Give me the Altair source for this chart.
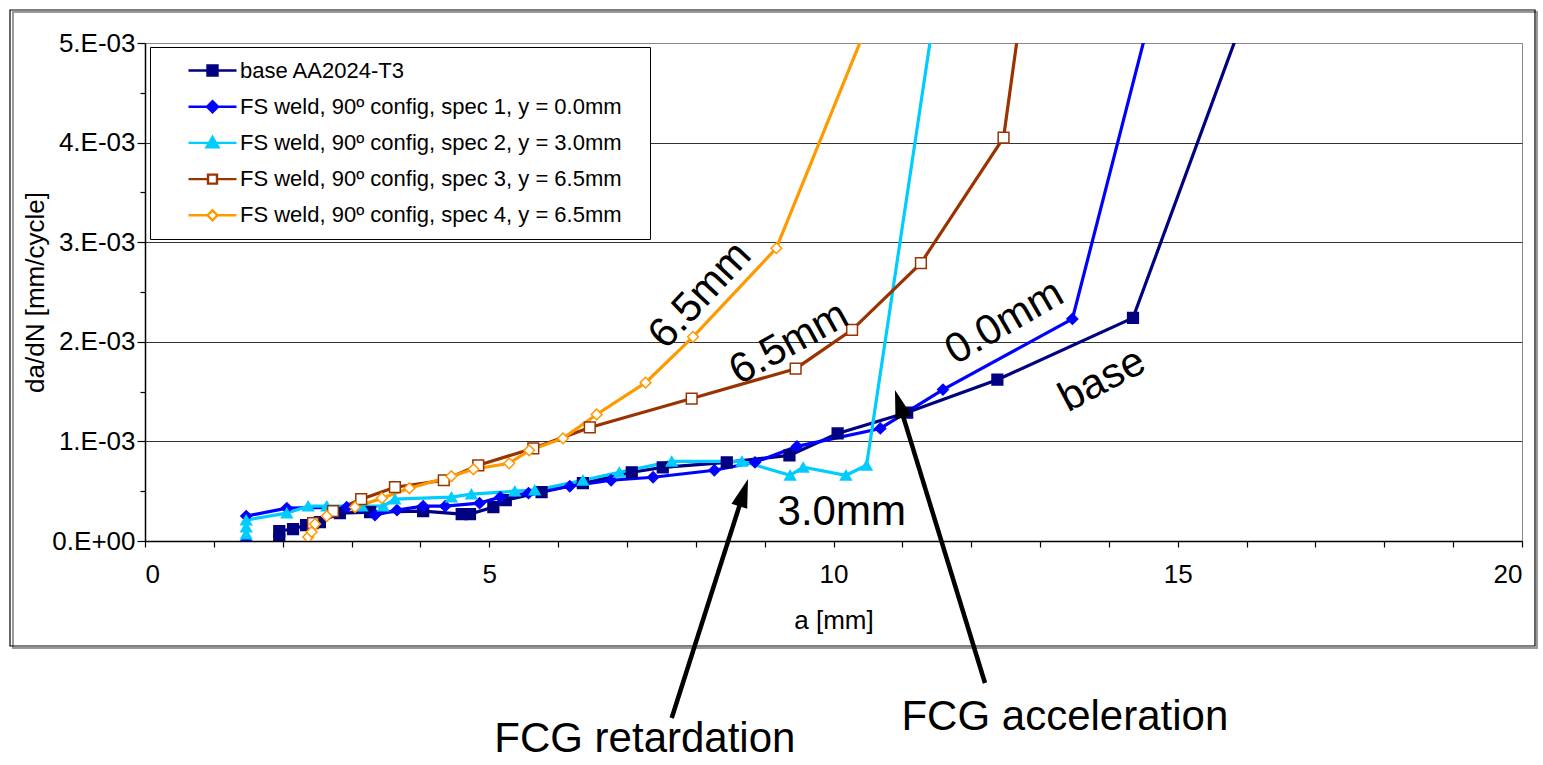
import altair as alt
import pandas as pd

# ---------------- data ----------------
names = [
    "base AA2024-T3",
    "FS weld, 90º config, spec 1, y = 0.0mm",
    "FS weld, 90º config, spec 2, y = 3.0mm",
    "FS weld, 90º config, spec 3, y = 6.5mm",
    "FS weld, 90º config, spec 4, y = 6.5mm",
]
colors = ["#000080", "#0000FF", "#00CCFF", "#993300", "#FF9900"]
fills = ["#000080", "#0000FF", "#00CCFF", "#FFFFFF", "#FFFFFF"]
shapes = ["square", "diamond", "triangle-up", "square", "diamond"]
legend_shapes = [
    "M-2.4,0H-0.5M0.5,0H2.4M-0.5,-0.5H0.5V0.5H-0.5Z",
    "M-2.4,0H-0.55M0.55,0H2.4M0,-0.55L0.55,0L0,0.55L-0.55,0Z",
    "M-2.4,0H-0.35M0.35,0H2.4M0,-0.6L0.6,0.45L-0.6,0.45Z",
    "M-2.4,0H-0.45M0.45,0H2.4M-0.45,-0.45H0.45V0.45H-0.45Z",
    "M-2.4,0H-0.5M0.5,0H2.4M0,-0.5L0.5,0L0,0.5L-0.5,0Z",
]

# crack length a [mm] and da/dN in units of 1e-3 mm/cycle
base_a = [1.95, 1.95, 2.15, 2.34, 2.54, 2.83, 3.27, 4.04, 4.60, 4.72, 5.06, 5.24, 5.76,
          6.36, 7.07, 7.52, 8.45, 9.36, 10.06, 11.07, 12.38, 14.35, 16.0]
base_v = [0.02, 0.10, 0.12, 0.16, 0.19, 0.28, 0.29, 0.30, 0.27, 0.27, 0.34, 0.41, 0.49,
          0.58, 0.69, 0.74, 0.79, 0.86, 1.08, 1.29, 1.62, 2.24, 5.34]

s1_a = [1.47, 1.47, 2.06, 2.93, 3.34, 3.66, 4.04, 4.36, 4.86, 5.16, 5.57, 6.17, 6.77,
        7.38, 8.27, 8.86, 9.47, 10.68, 11.59, 13.47, 14.7]
s1_v = [0.0, 0.25, 0.33, 0.34, 0.26, 0.31, 0.35, 0.35, 0.38, 0.44, 0.48, 0.55, 0.61,
        0.64, 0.71, 0.79, 0.95, 1.13, 1.52, 2.23, 5.54]

s2_a = [1.47, 1.47, 1.47, 2.06, 2.37, 2.64, 3.15, 3.46, 3.63, 4.45, 4.74, 5.37, 5.66,
        6.36, 6.89, 7.65, 8.67, 9.37, 9.56, 10.18, 10.48, 11.5]
s2_v = [0.07, 0.14, 0.21, 0.28, 0.35, 0.35, 0.35, 0.35, 0.42, 0.44, 0.47, 0.50, 0.51,
        0.61, 0.69, 0.80, 0.80, 0.66, 0.74, 0.66, 0.76, 5.46]

s3_a = [2.44, 2.73, 3.14, 3.63, 4.34, 4.84, 5.64, 6.46, 7.94, 9.45, 10.27, 11.27, 12.47, 12.75]
s3_v = [0.18, 0.30, 0.42, 0.54, 0.61, 0.76, 0.93, 1.14, 1.43, 1.73, 2.12, 2.79, 4.05, 5.45]

s4_a = [2.37, 2.42, 2.47, 2.64, 3.05, 3.44, 3.84, 4.45, 4.77, 5.29, 5.58, 6.07, 6.56,
        7.27, 7.96, 9.17, 10.6]
s4_v = [0.04, 0.09, 0.17, 0.25, 0.34, 0.43, 0.53, 0.65, 0.72, 0.78, 0.91, 1.03, 1.27,
        1.59, 2.05, 2.94, 5.37]

# annotations (a [mm], da/dN in 1e-3 units)
ann_text = ["6.5mm", "6.5mm", "0.0mm", "base", "3.0mm", "FCG retardation", "FCG acceleration"]
ann_a = [8.06, 9.35, 12.48, 13.9, 10.12, 7.26, 13.36]
ann_v = [2.47, 1.99, 2.20, 1.62, 0.29, -1.99, -1.77]
ann_angle = [313, 331, 330, 332, 0, 0, 0]

arrow_tail_a = [7.65, 12.2]
arrow_tail_v = [-1.777, -1.426]
arrow_end_a = [8.67, 10.979]
arrow_end_v = [0.432, 1.324]
arrow_tip_a = [8.758, 10.893]
arrow_tip_v = [0.6225, 1.516]
arrow_angle = [17.7, 342.9]

y_ticks = [i * 0.0005 for i in range(11)]
x_ticks = list(range(0, 21))

# ---------------- tables ----------------
rows = []
for name, xs, vs in zip(names, [base_a, s1_a, s2_a, s3_a, s4_a],
                        [base_v, s1_v, s2_v, s3_v, s4_v]):
    for i, (xa, v) in enumerate(zip(xs, vs)):
        rows.append({"series": name, "a": xa, "dadn": v * 1e-3, "idx": i})
df = pd.DataFrame(rows)

ann_df = pd.DataFrame({"text": ann_text, "a": ann_a,
                       "dadn": [v * 1e-3 for v in ann_v], "angle": ann_angle})
arr_df = pd.DataFrame({"a": arrow_tail_a, "dadn": [v * 1e-3 for v in arrow_tail_v],
                       "a2": arrow_end_a, "dadn2": [v * 1e-3 for v in arrow_end_v]})
head_df = pd.DataFrame({"a": arrow_tip_a, "dadn": [v * 1e-3 for v in arrow_tip_v],
                        "angle": arrow_angle})

FONT = "Liberation Sans"
major_y = "round(datum.value*2000) % 2 == 0"

y_axis = alt.Axis(
    values=y_ticks,
    labelExpr=f"{major_y} ? (datum.value == 0 ? '0.E+00' : round(datum.value*1000) + '.E-03') : ''",
    tickSize={"condition": {"test": major_y, "value": 8}, "value": 5},
    gridOpacity={"condition": {"test": f"{major_y} && datum.value < 0.0049", "value": 1}, "value": 0},
    grid=True, gridColor="#333333", gridWidth=1,
    labelPadding=2, titleX=-110, titleBaseline="middle", titleAngle=270,
)
x_axis = alt.Axis(
    values=x_ticks,
    labelExpr="datum.value % 5 == 0 ? format(datum.value, 'd') : ''",
    tickSize=6, grid=False, labelPadding=14,
    titleY=79, titleBaseline="middle",
)

x_enc = alt.X("a:Q", title="a [mm]", scale=alt.Scale(domain=[0, 20], nice=False, zero=False), axis=x_axis)
y_enc = alt.Y("dadn:Q", title="da/dN [mm/cycle]", scale=alt.Scale(domain=[0, 0.005], nice=False), axis=y_axis)

# frame
frame_data = alt.Data(values=[{"k": 1}])
shadow = alt.Chart(frame_data).mark_rect(fill=None, stroke="#999999", strokeWidth=2).encode(
    x=alt.value(-132), x2=alt.value(1392), y=alt.value(-31), y2=alt.value(605))
frame = alt.Chart(frame_data).mark_rect(fill=None, stroke="black", strokeWidth=1.2).encode(
    x=alt.value(-135), x2=alt.value(1390), y=alt.value(-33), y2=alt.value(603))

lines = alt.Chart(df).mark_line(strokeWidth=3.2, clip=True).encode(
    x=x_enc, y=y_enc,
    color=alt.Color("series:N", scale=alt.Scale(domain=names, range=colors), legend=None),
    order="idx:Q",
)

points = alt.Chart(df).mark_point(filled=False, clip=True, strokeWidth=1.5, opacity=1, size=115).encode(
    x="a:Q", y="dadn:Q",
    stroke=alt.Stroke("series:N", scale=alt.Scale(domain=names, range=colors), legend=None),
    fill=alt.Fill("series:N", scale=alt.Scale(domain=names, range=fills), legend=None),
    shape=alt.Shape("series:N", scale=alt.Scale(domain=names, range=shapes), legend=None),
)

leg = alt.Legend(
    title=None, orient="none", legendX=5, legendY=4, padding=12,
    fillColor="white", strokeColor="black",
    symbolSize=400, symbolStrokeWidth=2.4, symbolOffset=39, labelOffset=16,
    symbolFillColor="white", symbolStrokeColor="black",
    labelFont=FONT, labelFontSize=22, labelColor="black", labelLimit=1000,
    rowPadding=13.2, labelExpr="datum.label + '\u2800'",
)
legend_layer = alt.Chart(df).transform_filter("false").mark_point(
    filled=False, strokeWidth=2.4, opacity=1).encode(
    x="a:Q", y="dadn:Q",
    stroke=alt.Stroke("series:N", scale=alt.Scale(domain=names, range=colors), legend=leg),
    fill=alt.Fill("series:N", scale=alt.Scale(domain=names, range=fills), legend=leg),
    shape=alt.Shape("series:N", scale=alt.Scale(domain=names, range=legend_shapes), legend=leg),
)

arrows = alt.Chart(arr_df).mark_rule(strokeWidth=4.5, color="black").encode(
    x="a:Q", y="dadn:Q", x2="a2:Q", y2="dadn2:Q")
heads = alt.Chart(head_df).mark_point(
    shape="M0,0L0.55,1.9L-0.55,1.9Z", filled=True, size=900, color="black", opacity=1).encode(
    x="a:Q", y="dadn:Q", angle=alt.Angle("angle:Q", scale=None))

texts = alt.Chart(ann_df).mark_text(
    font=FONT, fontSize=42, align="center", baseline="middle", color="black").encode(
    x="a:Q", y="dadn:Q", text="text:N", angle=alt.Angle("angle:Q", scale=None))

chart = alt.layer(shadow, frame, lines, points, legend_layer, arrows, heads, texts).resolve_scale(
    color="independent", stroke="independent", fill="independent", shape="independent"
).properties(
    width=1377, height=498,
    padding={"left": 145, "top": 43, "right": 21, "bottom": 224},
    autosize=alt.AutoSizeParams(type="none"),
    background="white",
).configure_view(
    stroke="#888888", strokeWidth=1
).configure_axis(
    labelFont=FONT, titleFont=FONT, labelFontSize=26, titleFontSize=26,
    titleFontWeight="normal", labelColor="black", titleColor="black",
    domainColor="black", domainWidth=1.5, tickColor="black", tickWidth=1.2,
)

chart.save("out.html", embed_options={"renderer": "svg", "actions": False})
